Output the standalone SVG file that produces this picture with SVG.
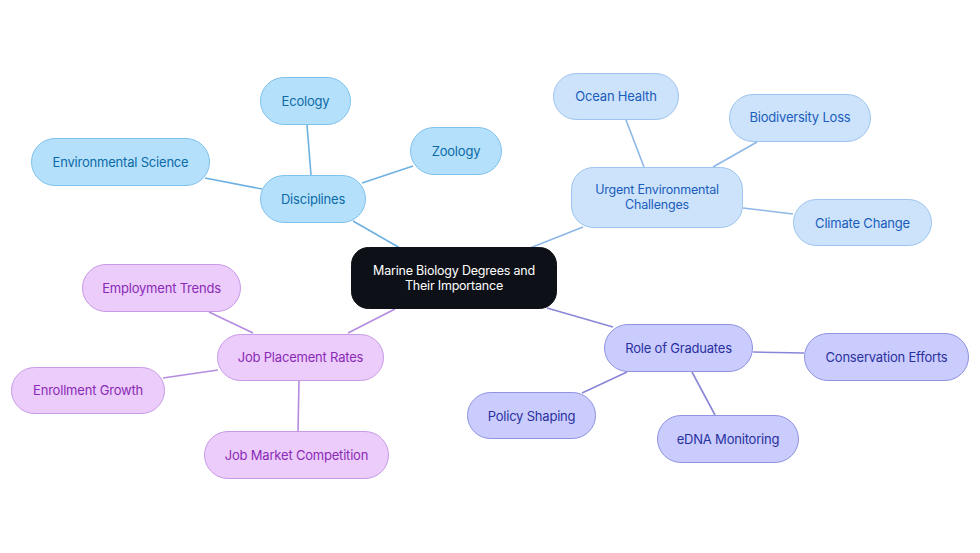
<svg xmlns="http://www.w3.org/2000/svg" width="980" height="553" viewBox="0 0 980 553">
<style>
text{font-family:Inter,"Noto Sans","Liberation Sans",sans-serif;font-size:13px;letter-spacing:-0.2px;text-anchor:middle;dominant-baseline:central}
.b rect{fill:#B5E0FC;stroke:#7FC2EE;stroke-width:1}
.b text{fill:#0C6BA6}
.u rect{fill:#CDE3FB;stroke:#9DC4EE;stroke-width:1}
.u text{fill:#1A5DBB}
.p rect{fill:#EBCCFB;stroke:#C79BE6;stroke-width:1}
.p text{fill:#8A2BB5}
.i rect{fill:#C9CCFC;stroke:#8F93E0;stroke-width:1}
.i text{fill:#2B30A0}
.c rect{fill:#0D1117;stroke:#0D1117}
.c text{fill:#FFFFFF;font-size:12.5px}
.u .two{font-size:12.5px}
#edges line{stroke-width:1.6;fill:none}
.eb{stroke:#6DB1E2}.eu{stroke:#8DB7E8}.ep{stroke:#B58BE0}.ei{stroke:#8986D8}
</style>
<rect width="980" height="553" fill="#FFFFFF"/>
<g id="edges">
<line class="eb" x1="353" y1="221" x2="400" y2="248"/>
<line class="eb" x1="307" y1="125" x2="311" y2="175"/>
<line class="eb" x1="205" y1="178" x2="262" y2="189"/>
<line class="eb" x1="413" y1="166" x2="362" y2="183"/>
<line class="eu" x1="583" y1="227" x2="530" y2="248"/>
<line class="eu" x1="626" y1="120" x2="644" y2="167"/>
<line class="eu" x1="757" y1="142" x2="713" y2="167"/>
<line class="eu" x1="793" y1="214" x2="743" y2="208"/>
<line class="ep" x1="348" y1="333" x2="395" y2="309"/>
<line class="ep" x1="209" y1="312" x2="253" y2="333"/>
<line class="ep" x1="163" y1="378" x2="218" y2="370"/>
<line class="ep" x1="298" y1="431" x2="299" y2="381"/>
<line class="ei" x1="547" y1="308" x2="613" y2="327"/>
<line class="ei" x1="753" y1="352" x2="804" y2="353"/>
<line class="ei" x1="627" y1="372" x2="582" y2="393"/>
<line class="ei" x1="692" y1="372" x2="715" y2="415"/>
</g>
<g id="center" class="c"><rect x="351.5" y="247.5" width="205" height="61" rx="17"/><text x="454" y="270.5">Marine Biology Degrees and</text><text x="454" y="285.5">Their Importance</text></g>
<g id="disciplines" class="b"><rect x="260.5" y="175.5" width="105" height="47" rx="23.5"/><text x="313" y="199">Disciplines</text></g>
<g id="ecology" class="b"><rect x="260.5" y="77.5" width="90" height="47" rx="23.5"/><text x="305.5" y="101">Ecology</text></g>
<g id="zoology" class="b"><rect x="410.5" y="127.5" width="91" height="47" rx="23.5"/><text x="456" y="151">Zoology</text></g>
<g id="envsci" class="b"><rect x="31.5" y="138.5" width="178" height="47" rx="23.5"/><text x="120.5" y="162">Environmental Science</text></g>
<g id="urgent" class="u"><rect x="571.5" y="167.5" width="171" height="60" rx="22"/><text class="two" x="657" y="189.5">Urgent Environmental</text><text class="two" x="657" y="204.5">Challenges</text></g>
<g id="ocean" class="u"><rect x="553.5" y="73.5" width="125" height="46" rx="23"/><text x="616" y="96">Ocean Health</text></g>
<g id="biodiv" class="u"><rect x="729.5" y="94.5" width="141" height="47" rx="23.5"/><text x="800" y="117">Biodiversity Loss</text></g>
<g id="climate" class="u"><rect x="793.5" y="199.5" width="138" height="46" rx="23"/><text x="862.5" y="222.5">Climate Change</text></g>
<g id="jobplace" class="p"><rect x="217.5" y="334.5" width="166" height="46" rx="23"/><text x="300.5" y="357">Job Placement Rates</text></g>
<g id="employ" class="p"><rect x="82.5" y="264.5" width="158" height="47" rx="23.5"/><text x="161.5" y="288">Employment Trends</text></g>
<g id="enroll" class="p"><rect x="11.5" y="367.5" width="153" height="46" rx="23"/><text x="88" y="390">Enrollment Growth</text></g>
<g id="jobmarket" class="p"><rect x="204.5" y="431.5" width="184" height="47" rx="23.5"/><text x="296.5" y="455">Job Market Competition</text></g>
<g id="role" class="i"><rect x="604.5" y="324.5" width="148" height="47" rx="23.5"/><text x="678.5" y="348">Role of Graduates</text></g>
<g id="conserv" class="i"><rect x="804.5" y="333.5" width="164" height="47" rx="23.5"/><text x="886.5" y="357">Conservation Efforts</text></g>
<g id="policy" class="i"><rect x="467.5" y="392.5" width="128" height="46" rx="23"/><text x="531.5" y="415.5">Policy Shaping</text></g>
<g id="edna" class="i"><rect x="657.5" y="415.5" width="141" height="47" rx="23.5"/><text x="728" y="439">eDNA Monitoring</text></g>
</svg>
